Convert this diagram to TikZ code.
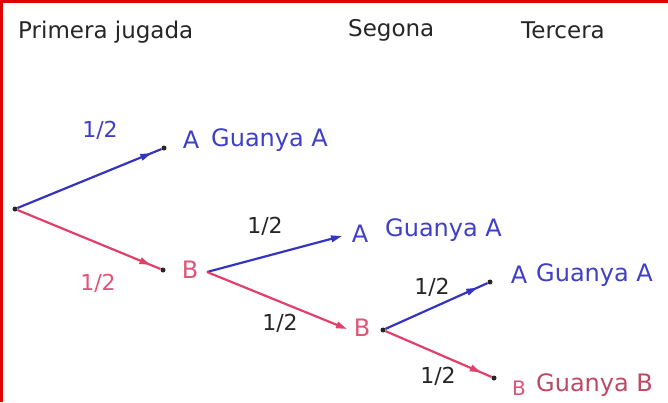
\documentclass[tikz,border=0pt]{standalone}
\usepackage{fontspec}
\setmainfont{DejaVu Sans}
\usetikzlibrary{arrows.meta,decorations.markings}
\definecolor{lblue}{HTML}{3434C0}
\definecolor{tblue}{HTML}{3F3FC8}
\definecolor{lred}{HTML}{E0406A}
\definecolor{tred}{HTML}{E05577}
\definecolor{frame}{HTML}{E00000}
\tikzset{
  hdr/.style={anchor=west,inner sep=0pt,font=\fontsize{23}{25}\selectfont,text=black!85},
  prob/.style={inner sep=0pt,font=\fontsize{22}{24}\selectfont},
  lett/.style={inner sep=0pt,font=\fontsize{24}{26}\selectfont},
  outc/.style={anchor=west,inner sep=0pt,font=\fontsize{24}{26}\selectfont},
  pt/.style={circle,fill=black!85,inner sep=0pt,minimum size=5pt},
  tip/.style={-{Triangle[length=11pt,width=6.5pt]}},
  midtip/.style={decoration={markings,mark=at position #1 with {\arrow{Triangle[length=11pt,width=6.5pt]}}},postaction=decorate},
  bl/.style={draw=lblue,line width=2.2pt,fill=none},
  rd/.style={draw=lred,line width=2.2pt,fill=none}
}
\begin{document}
\begin{tikzpicture}[x=1pt,y=-1pt]
\useasboundingbox (0,0) rectangle (668,402);
\fill[white] (0,0) rectangle (668,402);
\fill[frame] (0,0) rectangle (668,3);
\fill[frame] (0,0) rectangle (3,402);
% headers
\node[hdr] (h1) at (18,32) {Primera jugada};
\node[hdr] (h2) at (348,30) {Segona};
\node[hdr] (h3) at (521,30) {Tercera};
% points
\node[pt] (r) at (15,209) {};
\node[pt] (a1) at (164,148) {};
\node[pt] (b1) at (163,270) {};
\coordinate (bs) at (207,272);
\coordinate (a2) at (342,236);
\coordinate (b2) at (347,329);
\node[pt] (cs) at (383,330) {};
\node[pt] (a3) at (490,282) {};
\node[pt] (b3) at (494,378) {};
% branches
\draw[bl,midtip=0.93,color=lblue] (r) -- (a1);
\draw[rd,midtip=0.93,color=lred] (r) -- (b1);
\draw[bl,tip,color=lblue] (bs) -- (a2);
\draw[rd,tip,color=lred] (bs) -- (b2);
\draw[bl,midtip=0.9,color=lblue] (cs) -- (a3);
\draw[rd,midtip=0.9,color=lred] (cs) -- (b3);
% probabilities
\node[prob,text=tblue] (p1) at (100,130) {1/2};
\node[prob,text=tred] (p2) at (98,283) {1/2};
\node[prob,text=black!85] (p3) at (265,226) {1/2};
\node[prob,text=black!85] (p4) at (280,323) {1/2};
\node[prob,text=black!85] (p5) at (432,287) {1/2};
\node[prob,text=black!85] (p6) at (438,376) {1/2};
% letters and outcomes
\node[lett,text=tblue] (la1) at (191,140) {A};
\node[outc,text=tblue] (g1) at (211,140) {Guanya A};
\node[lett,text=tred] (lb1) at (190,270) {B};
\node[lett,text=tblue] (la2) at (360,234) {A};
\node[outc,text=tblue] (g2) at (385,230) {Guanya A};
\node[lett,text=tred] (lb2) at (362,328) {B};
\node[lett,text=tblue] (la3) at (519,275) {A};
\node[outc,text=tblue] (g3) at (536,275) {Guanya A};
\node[lett,text=tred,font=\fontsize{20}{22}\selectfont] (lb3) at (519,388) {B};
\node[outc,text=tred!85!black] (g4) at (536,385) {Guanya B};
\end{tikzpicture}
\end{document}
